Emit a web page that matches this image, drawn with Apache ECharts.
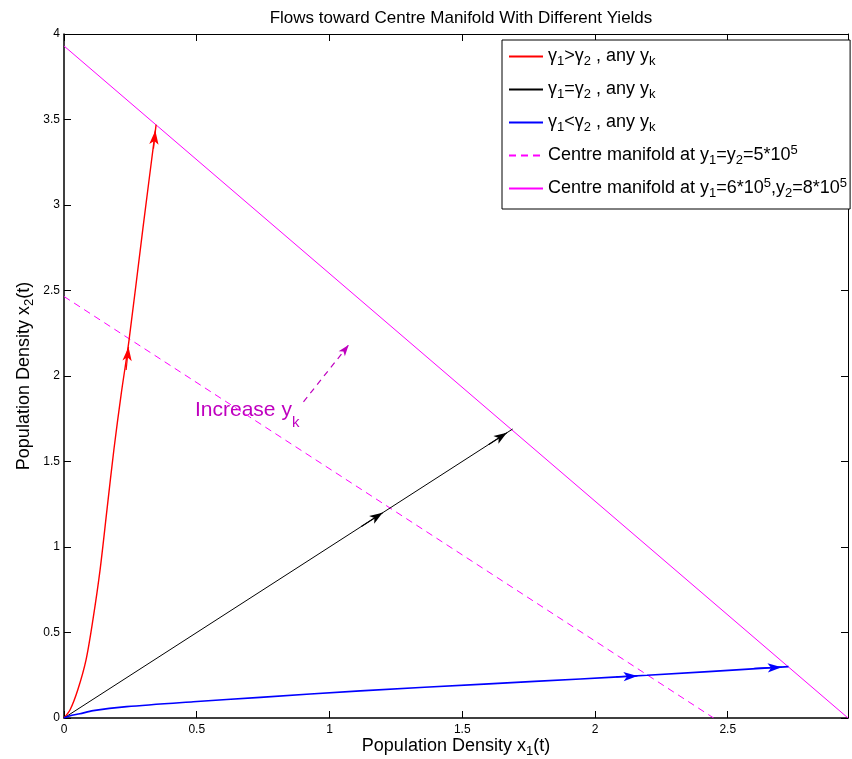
<!DOCTYPE html>
<html>
<head>
<meta charset="utf-8">
<title>Flows toward Centre Manifold</title>
<script src="https://cdn.jsdelivr.net/npm/echarts@6/dist/echarts.min.js"></script>
<style>
  html, body { margin: 0; padding: 0; background: #fff; }
  #chart { width: 852px; height: 759px; }
</style>
</head>
<body>
<div id="chart"></div>
<script>
// values, [x1, x2]
var redCurve = [[0, 0], [0.023, 0.048], [0.052, 0.165], [0.083, 0.34], [0.109, 0.575], [0.136, 0.868],
  [0.162, 1.22], [0.188, 1.57], [0.215, 1.89], [0.245, 2.21], [0.297, 2.86], [0.347, 3.47]];
var blackLine = [[0, 0], [1.69, 1.69]];
var blueCurve = [[0, 0], [0.02, 0.012], [0.06, 0.025], [0.11, 0.043], [0.236, 0.066], [0.487, 0.095],
  [0.739, 0.121], [1.116, 0.159], [1.6, 0.2], [1.945, 0.228], [2.196, 0.25], [2.729, 0.30]];
var manifoldLow = [[0, 2.465], [2.447, 0]];
var manifoldHigh = [[0, 3.93], [2.953, 0]];

// arrow heads: [tailX, tailY, headX, headY]
var redArrows = [[0.234, 2.035, 0.243, 2.17], [0.337, 3.33, 0.344, 3.436]];
var blackArrows = [[1.12, 1.12, 1.2, 1.2], [1.6, 1.6, 1.668, 1.668]];
var blueArrows = [[2.08, 0.24, 2.16, 0.246], [2.6, 0.29, 2.703, 0.297]];
var increaseArrow = [[0.902, 1.849, 1.072, 2.181]];

var xRange = [0, 2.953];
var yRange = [0, 4];
var tickStep = 0.5;

var legendNames = ['r', 'k', 'b', 'd', 'm'];
var legendTexts = {
  r: 'γ{sub|1}>γ{sub|2} , any y{sub|k}',
  k: 'γ{sub|1}=γ{sub|2} , any y{sub|k}',
  b: 'γ{sub|1}<γ{sub|2} , any y{sub|k}',
  d: 'Centre manifold at y{sub|1}=y{sub|2}=5*10{sup|5}',
  m: 'Centre manifold at y{sub|1}=6*10{sup|5},y{sub|2}=8*10{sup|5}'
};

var font = 'Liberation Sans, Arial, Helvetica, sans-serif';

function arrowLines(list) {
  return list.map(function (a) {
    return [{ coord: [a[0], a[1]] }, { coord: [a[2], a[3]] }];
  });
}

function arrowMark(list, color, size, dashed) {
  return {
    silent: true,
    animation: false,
    symbol: ['none', 'arrow'],
    symbolSize: size,
    label: { show: false },
    emphasis: { disabled: true },
    lineStyle: { color: color, width: 1.2, type: dashed ? [6, 5] : 'solid' },
    data: arrowLines(list)
  };
}

function lineSeries(name, data, color, width, type, arrows, size) {
  var s = {
    name: name,
    type: 'line',
    data: data,
    showSymbol: false,
    symbol: 'none',
    silent: true,
    lineStyle: { color: color, width: width, type: type },
    itemStyle: { color: color },
    emphasis: { disabled: true },
    z: 3
  };
  if (arrows) s.markLine = arrowMark(arrows, color, size);
  return s;
}

// one axis of the box; side axes only carry ticks
function boxAxis(range, position, lineWidth, extra) {
  var a = {
    type: 'value',
    position: position,
    min: range[0],
    max: range[1],
    interval: tickStep,
    axisLine: { onZero: false, lineStyle: { color: '#000', width: lineWidth } },
    axisTick: { inside: true, length: 7, lineStyle: { color: '#000' } },
    axisLabel: { show: false },
    splitLine: { show: false }
  };
  return Object.assign(a, extra || {});
}

var subStyle = { fontSize: 13, lineHeight: 23, padding: [10, 0, 0, 0] };
var supStyle = { fontSize: 13, lineHeight: 23, padding: [0, 0, 10, 0] };
var nameRich = { sub: { fontSize: 13, lineHeight: 14, padding: [10, 0, 0, 0] } };
var nameStyle = { fontSize: 18, color: '#000', fontFamily: font, lineHeight: 20, rich: nameRich };

var chart = echarts.init(document.getElementById('chart'));

var option = {
  animation: false,
  textStyle: { fontFamily: font, color: '#000' },
  title: {
    text: 'Flows toward Centre Manifold With Different Yields',
    left: 456,
    top: 5,
    textAlign: 'center',
    textStyle: { fontSize: 17, fontWeight: 'normal', color: '#000', fontFamily: font }
  },
  grid: { left: 64, right: 4, top: 34, bottom: 41, outerBoundsMode: 'none', containLabel: false },
  legend: {
    data: legendNames,
    orient: 'vertical',
    left: 502,
    top: 40,
    padding: [0, 3, 4, 6],
    itemGap: 0,
    itemWidth: 34,
    itemHeight: 14,
    borderColor: '#000',
    borderWidth: 1,
    backgroundColor: '#fff',
    selectedMode: false,
    itemStyle: { opacity: 0 },
    formatter: function (name) { return legendTexts[name]; },
    textStyle: {
      fontSize: 18,
      lineHeight: 33,
      color: '#000',
      fontFamily: font,
      rich: { sub: subStyle, sup: supStyle }
    }
  },
  xAxis: [
    boxAxis(xRange, 'bottom', 1.5, {
      name: 'Population Density x{sub|1}(t)',
      nameLocation: 'middle',
      nameGap: 18,
      nameMoveOverlap: false,
      nameTextStyle: nameStyle,
      axisLabel: { fontSize: 12, color: '#000', margin: 6, showMaxLabel: false }
    }),
    boxAxis(xRange, 'top', 1)
  ],
  yAxis: [
    boxAxis(yRange, 'left', 1.5, {
      name: 'Population Density x{sub|2}(t)',
      nameLocation: 'middle',
      nameGap: 30,
      nameMoveOverlap: false,
      nameTextStyle: nameStyle,
      axisLabel: { fontSize: 12, color: '#000', margin: 4 }
    }),
    boxAxis(yRange, 'right', 1)
  ],
  graphic: [{
    type: 'text',
    left: 195,
    top: 391,
    silent: true,
    style: {
      text: 'Increase y{sub|k}',
      fontSize: 21,
      lineHeight: 21,
      fontFamily: font,
      fill: '#bf00bf',
      rich: { sub: { fontSize: 15, lineHeight: 15, padding: [24, 0, 0, 0], fill: '#bf00bf' } }
    }
  }],
  series: [
    lineSeries('d', manifoldLow, '#ff00ff', 1, [7, 5]),
    lineSeries('m', manifoldHigh, '#ff00ff', 1, 'solid'),
    lineSeries('r', redCurve, '#ff0000', 1.4, 'solid', redArrows, [7, 14]),
    lineSeries('k', blackLine, '#000000', 1, 'solid', blackArrows, [7, 13]),
    lineSeries('b', blueCurve, '#0000ff', 1.7, 'solid', blueArrows, [7, 14]),
    {
      name: 'increase',
      type: 'line',
      data: [],
      silent: true,
      markLine: arrowMark(increaseArrow, '#bf00bf', [6, 11], true)
    }
  ]
};

option.series[2].smooth = 0.3;
option.series[4].smooth = 0.3;

chart.setOption(option);
</script>
</body>
</html>
